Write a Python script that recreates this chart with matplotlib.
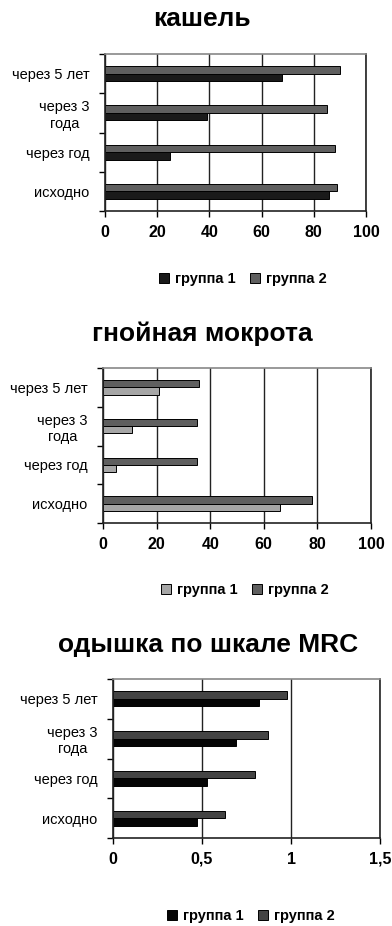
import matplotlib.pyplot as plt
import numpy as np

plt.rcParams["font.family"] = ["Liberation Sans", "DejaVu Sans"]

# --- Data ---
categories = ["исходно", "через год", "через 3\nгода", "через 5 лет"]
series_names = ["группа 1", "группа 2"]

cough_g1 = [86, 25, 39, 68]
cough_g2 = [89, 88, 85, 90]

sputum_g1 = [66, 5, 11, 21]
sputum_g2 = [78, 35, 35, 36]

mrc_g1 = [0.47, 0.53, 0.69, 0.82]
mrc_g2 = [0.63, 0.80, 0.87, 0.98]

xticks_100 = [0, 20, 40, 60, 80, 100]
xlabels_100 = ["0", "20", "40", "60", "80", "100"]
xticks_mrc = [0, 0.5, 1, 1.5]
xlabels_mrc = ["0", "0,5", "1", "1,5"]

W, H = 392, 926
fig = plt.figure(figsize=(W / 100, H / 100), dpi=100)


def box(l, t, r, b):
    return [l / W, 1 - b / H, (r - l) / W, (b - t) / H]


def make_chart(rect, g1, g2, c1, c2, xticks, xlabels, title, title_xy, leg_xy):
    ax = fig.add_axes(rect)
    y = np.arange(len(categories))
    h = 0.19
    b1 = ax.barh(y - h / 2, g1, height=h, color=c1, edgecolor="black", linewidth=0.7)
    b2 = ax.barh(y + h / 2, g2, height=h, color=c2, edgecolor="black", linewidth=0.7)
    ax.set_ylim(-0.5, len(categories) - 0.5)
    ax.set_xlim(xticks[0], xticks[-1])
    ax.set_xticks(xticks)
    ax.set_xticklabels(xlabels, fontsize=11.5, fontweight="bold")
    ax.set_yticks(y)
    ax.set_yticklabels(categories, fontsize=10.5, multialignment="center")
    ax.set_yticks(np.arange(-0.5, len(categories), 1), minor=True)
    ax.tick_params(axis="y", which="major", length=0, pad=11)
    ax.tick_params(axis="y", which="minor", length=4, width=1, direction="out")
    ax.tick_params(axis="x", length=4, width=1, direction="out", pad=6)
    ax.xaxis.grid(True, color="#222222", linewidth=1)
    ax.set_axisbelow(True)
    for s in ["left", "bottom", "right"]:
        ax.spines[s].set_color("#222222")
        ax.spines[s].set_linewidth(1.2)
    ax.spines["top"].set_color("#888888")
    ax.spines["top"].set_linewidth(1.2)
    fig.text(title_xy[0] / W, 1 - title_xy[1] / H, title, fontsize=19,
             fontweight="bold", ha="center", va="center")
    fig.legend([b1, b2], series_names, loc="center",
               bbox_to_anchor=(leg_xy[0] / W, 1 - leg_xy[1] / H),
               ncol=2, frameon=False, handlelength=0.7, handleheight=0.7,
               handletextpad=0.4, columnspacing=1.0,
               prop={"size": 10.5, "weight": "bold"})
    return ax


make_chart(box(105, 54, 366, 211), cough_g1, cough_g2, "#1a1a1a", "#5f5f5f",
           xticks_100, xlabels_100, "кашель", (202, 19), (243, 279))
make_chart(box(103, 368, 371, 523), sputum_g1, sputum_g2, "#a6a6a6", "#5f5f5f",
           xticks_100, xlabels_100, "гнойная мокрота", (202, 334), (245, 590))
make_chart(box(113, 679, 380, 838), mrc_g1, mrc_g2, "#050505", "#444444",
           xticks_mrc, xlabels_mrc, "одышка по шкале MRC", (208, 645), (251, 916))

fig.savefig("out.png", dpi=100)
